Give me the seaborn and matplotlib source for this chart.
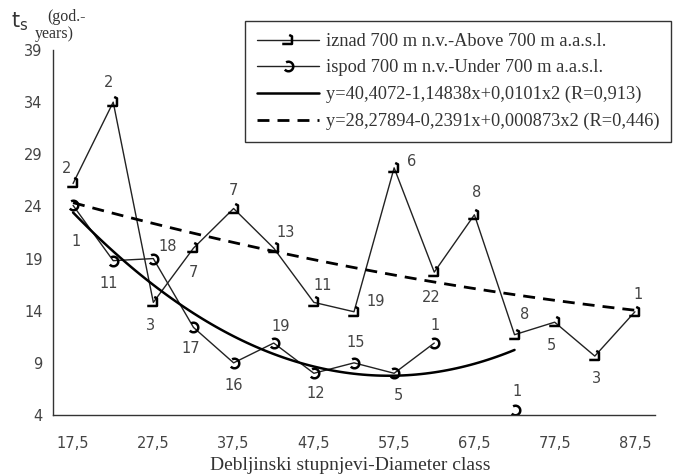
import numpy as np
import pandas as pd
import matplotlib
matplotlib.use('Agg')
import matplotlib.pyplot as plt
from matplotlib.path import Path
from matplotlib.lines import Line2D
import seaborn as sns

# diameter classes (cm)
classes = [17.5, 22.5, 27.5, 32.5, 37.5, 42.5, 47.5, 52.5,
           57.5, 62.5, 67.5, 72.5, 77.5, 82.5, 87.5]
tickLabels = ['17,5', '27,5', '37,5', '47,5', '57,5', '67,5', '77,5', '87,5']

# above 700 m a.s.l. - values and number of trees per class
aboveValues = [26.2, 34.0, 14.8, 20.0, 23.8, 20.0, 14.8, 13.9,
               27.7, 17.7, 23.2, 11.7, 12.9, 9.65, 13.9]
aboveCounts = [2, 2, 3, 7, 7, 13, 11, 19, 6, 22, 8, 8, 5, 3, 1]

# under 700 m a.s.l. (no trees in class 67,5)
underClasses = [17.5, 22.5, 27.5, 32.5, 37.5, 42.5, 47.5, 52.5, 57.5, 62.5, 72.5]
underValues = [24.1, 18.8, 19.0, 12.4, 9.0, 10.9, 8.0, 9.0, 8.0, 10.9, 4.5]
underCounts = [1, 11, 18, 17, 16, 19, 12, 15, 5, 1, 1]
underSegment = [0, 0, 0, 0, 0, 0, 0, 0, 0, 0, 1]

# trend lines at each class
trendUnderClasses = classes[:12]
trendUnderValues = [23.4, 19.7, 16.5, 13.75, 11.55, 9.85, 8.65, 7.95, 7.75, 8.1, 8.9, 10.25]
trendAboveValues = [24.35, 23.35, 22.35, 21.45, 20.55, 19.7, 18.9, 18.15,
                    17.4, 16.75, 16.1, 15.55, 15.0, 14.5, 14.05]

legendLabels = ['iznad 700 m n.v.-Above 700 m a.a.s.l.',
                'ispod 700 m n.v.-Under 700 m a.a.s.l.',
                'y=40,4072-1,14838x+0,0101x2 (R=0,913)',
                'y=28,27894-0,2391x+0,000873x2 (R=0,446)']

# label offsets in pixels (dx, dy) from the marker
aboveOffsets = [(-7, 15), (-5, 20), (-3, -23), (0, -24), (0, 18), (12, 16), (9, 17), (22, 10),
                (17, 6), (-3, -25), (2, 22), (10, 20), (-3, -23), (2, -22), (3, 17)]
underOffsets = [(3, -36), (-5, -23), (14, 12), (-3, -21), (0, -23), (7, 17), (2, -20), (2, 20),
                (4, -22), (1, 18), (3, 18)]

sns.set_style('white')

W, H = 682, 476
fig = plt.figure(figsize=(W / 100, H / 100), dpi=100)
ax = fig.add_axes([53 / W, 1 - 415 / H, (655 - 53) / W, (415 - 50) / H])

# marker shapes: a small hook for "above", a reversed c for "under"
aboveMarker = Path([(0.1, 0.8), (0.5, 0.6), (0.5, -0.5), (-0.9, -0.5)],
                   [Path.MOVETO, Path.LINETO, Path.LINETO, Path.LINETO])
arc = Path.arc(-140, 120)
underMarker = Path(arc.vertices, arc.codes)

lineColor = '#222222'
aboveKw = dict(markersize=9, markeredgewidth=1.8, markeredgecolor='black',
               markerfacecolor='none')
underKw = dict(markersize=7, markeredgewidth=1.8, markeredgecolor='black',
               markerfacecolor='none')

aboveDf = pd.DataFrame({'klasa': classes, 't': aboveValues})
sns.lineplot(data=aboveDf, x='klasa', y='t', ax=ax, color=lineColor, lw=1.0,
             marker=aboveMarker, **aboveKw)

underDf = pd.DataFrame({'klasa': underClasses, 't': underValues, 'seg': underSegment})
sns.lineplot(data=underDf, x='klasa', y='t', units='seg', estimator=None, ax=ax,
             color=lineColor, lw=1.0, marker=underMarker, **underKw)

# quadratic trend lines
sns.regplot(x=trendUnderClasses, y=trendUnderValues, order=2, scatter=False, ci=None,
            ax=ax, line_kws=dict(color='black', lw=1.8))
sns.regplot(x=classes, y=trendAboveValues, order=2, scatter=False, ci=None,
            ax=ax, line_kws=dict(color='black', lw=2.0, dashes=(4.3, 2.9)))

# tree counts next to points
labelFont = dict(fontsize=10.5, color='#444444', family='DejaVu Sans')
for x, y, n, (dx, dy) in zip(classes, aboveValues, aboveCounts, aboveOffsets):
    ax.annotate(str(n), xy=(x, y), xytext=(dx, dy), textcoords='offset pixels',
                ha='center', va='center', **labelFont)
for x, y, n, (dx, dy) in zip(underClasses, underValues, underCounts, underOffsets):
    ax.annotate(str(n), xy=(x, y), xytext=(dx, dy), textcoords='offset pixels',
                ha='center', va='center', **labelFont)

# axes
ax.set_xlim(15, 90)
ax.set_ylim(4, 39)
ax.set_yticks(range(4, 40, 5))
ax.set_xticks(classes[::2])
ax.set_xticklabels(tickLabels)
ax.set_xticks(np.arange(15, 91, 5), minor=True)
ax.tick_params(axis='x', which='major', length=0, pad=15, labelsize=10.5, labelcolor='#444444')
ax.tick_params(axis='x', which='minor', length=7, direction='inout', width=1, color='#333333')
ax.tick_params(axis='y', length=7, direction='inout', width=1, color='#333333',
               pad=4, labelsize=10.5, labelcolor='#444444')
for side in ['top', 'right']:
    ax.spines[side].set_visible(False)
for side in ['left', 'bottom']:
    ax.spines[side].set_color('#333333')
    ax.spines[side].set_linewidth(1.0)
ax.set_xlabel('')
ax.set_ylabel('')

serif = 'Liberation Serif'
fig.text(350 / W, 1 - 466 / H, 'Debljinski stupnjevi-Diameter class', ha='center', va='center',
         fontsize=14, family=serif, color='#333333')
fig.text(20 / W, 1 - 22 / H, r'$\mathregular{t_s}$', ha='center', va='center',
         fontsize=15, color='#333333')
fig.text(47 / W, 1 - 17 / H, '(god.-', ha='left', va='center', fontsize=11.5, family=serif,
         color='#333333')
fig.text(35 / W, 1 - 34 / H, 'years)', ha='left', va='center', fontsize=11.5, family=serif,
         color='#333333')

# legend
handles = [Line2D([], [], color=lineColor, lw=1.0, marker=aboveMarker, **aboveKw),
           Line2D([], [], color=lineColor, lw=1.0, marker=underMarker, **underKw),
           Line2D([], [], color='black', lw=1.8),
           Line2D([], [], color='black', lw=2.0, dashes=(4.3, 2.9))]
leg = ax.legend(handles, legendLabels, loc='upper left', bbox_to_anchor=(245 / W, 1 - 21 / H),
                bbox_transform=fig.transFigure, borderaxespad=0, frameon=True, fancybox=False,
                framealpha=1, edgecolor='#333333', handlelength=3.4, handletextpad=0.35,
                labelspacing=0.52, borderpad=0.65, prop=dict(family=serif, size=13.2))
leg.get_frame().set_linewidth(1.0)
for t in leg.get_texts():
    t.set_color('#333333')

fig.savefig('out.png', dpi=100)
